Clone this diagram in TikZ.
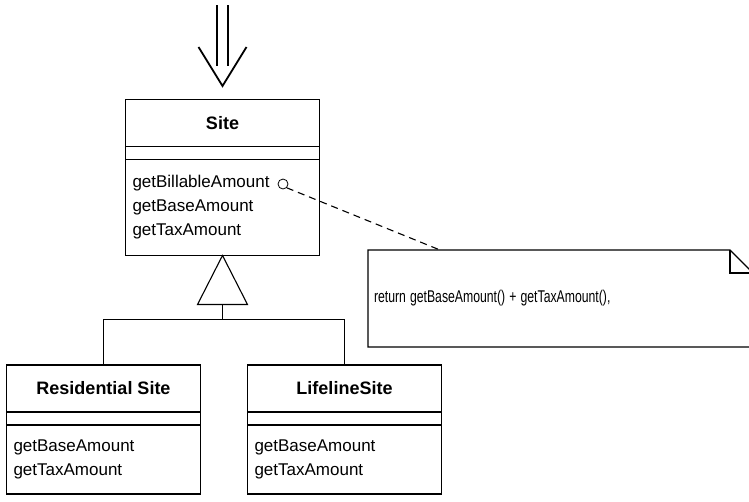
\documentclass[tikz,border=0pt]{standalone}
\usepackage{fontspec}
\usepackage{graphicx}
\setmainfont{Liberation Sans}
\usetikzlibrary{positioning, calc}

\begin{document}
\begin{tikzpicture}[
    x=1pt, y=-1pt,
    line width=1.1pt,
    every node/.style={font=\fontsize{17}{24}\selectfont},
    clshead/.style={draw, outer sep=0pt, inner sep=0pt, minimum width=194pt, minimum height=47pt, font=\fontsize{18}{24}\selectfont\bfseries},
    clsgap/.style={draw, outer sep=0pt, inner sep=0pt, minimum width=194pt, minimum height=13pt},
    clsops/.style={draw, outer sep=0pt, inner xsep=7pt, inner ysep=0pt, text width=180pt, align=left},
    pin/.style={draw, circle, line width=0.8pt, minimum size=10pt, inner sep=0pt},
    notebox/.style={outer sep=0pt, inner xsep=6pt, inner ysep=0pt, minimum width=385pt, minimum height=97pt, text width=373pt, align=left, font=\fontsize{17}{22}\selectfont},
    entryline/.style={line width=1.8pt},
    notelink/.style={dash pattern=on 7pt off 5pt},
]
\useasboundingbox (0,0) rectangle (749,501);

% ----------------------------------------------------------------- entry ---
\coordinate (entry) at (222.5,5);
\coordinate (entry-tip) at (222.5,86);
\draw[entryline] ([xshift=-5.5pt]entry) -- ([xshift=-5.5pt,yshift=20pt]entry-tip);
\draw[entryline] ([xshift=5.5pt]entry) -- ([xshift=5.5pt,yshift=20pt]entry-tip);
\draw[entryline] ([xshift=-24pt,yshift=39pt]entry-tip) -- (entry-tip) -- ([xshift=24pt,yshift=39pt]entry-tip);

% ------------------------------------------------------------------ Site ---
\node[clshead] (site) at (222.5,123) {Site};
\node[clsgap, below=0pt of site] (site-attr) {};
\node[clsops, below=0pt of site-attr, minimum height=96pt] (site-ops)
  {getBillableAmount\\ getBaseAmount\\ getTaxAmount};
\node[pin] (billable-pin) at (283,184) {};

% ------------------------------------------------------------------ note ---
\node[notebox] (note) at (560.5,298.5) {\scalebox{0.72}[1]{return getBaseAmount() + getTaxAmount(),}};
\draw (note.north west) -- ([xshift=-23pt]note.north east) -- ([yshift=-23pt]note.north east)
  -- (note.south east) -- (note.south west) -- cycle;
\draw ([xshift=-23pt]note.north east) |- ([yshift=-23pt]note.north east);
\coordinate (note-pin) at (440,250);
\draw[notelink] (billable-pin.south east) -- (note-pin);

% ------------------------------------------------------------ subclasses ---
\node[clshead] (res) at (103.5,388.5) {Residential Site};
\node[clsgap, below=0pt of res] (res-attr) {};
\node[clsops, below=0pt of res-attr, minimum height=69pt] (res-ops)
  {getBaseAmount\\ getTaxAmount};

\node[clshead] (life) at (344.5,388.5) {LifelineSite};
\node[clsgap, below=0pt of life] (life-attr) {};
\node[clsops, below=0pt of life-attr, minimum height=69pt] (life-ops)
  {getBaseAmount\\ getTaxAmount};

% -------------------------------------------------------- generalization ---
\draw (site-ops.south) -- ++(-25,49) -- ++(50,0) -- cycle;
\coordinate (gen-base) at ($(site-ops.south)+(0,49)$);
\coordinate (gen-join) at ($(gen-base)+(0,15)$);
\draw (gen-base) -- (gen-join);
\draw (res.north) |- (gen-join) -| (life.north);

\end{tikzpicture}
\end{document}
